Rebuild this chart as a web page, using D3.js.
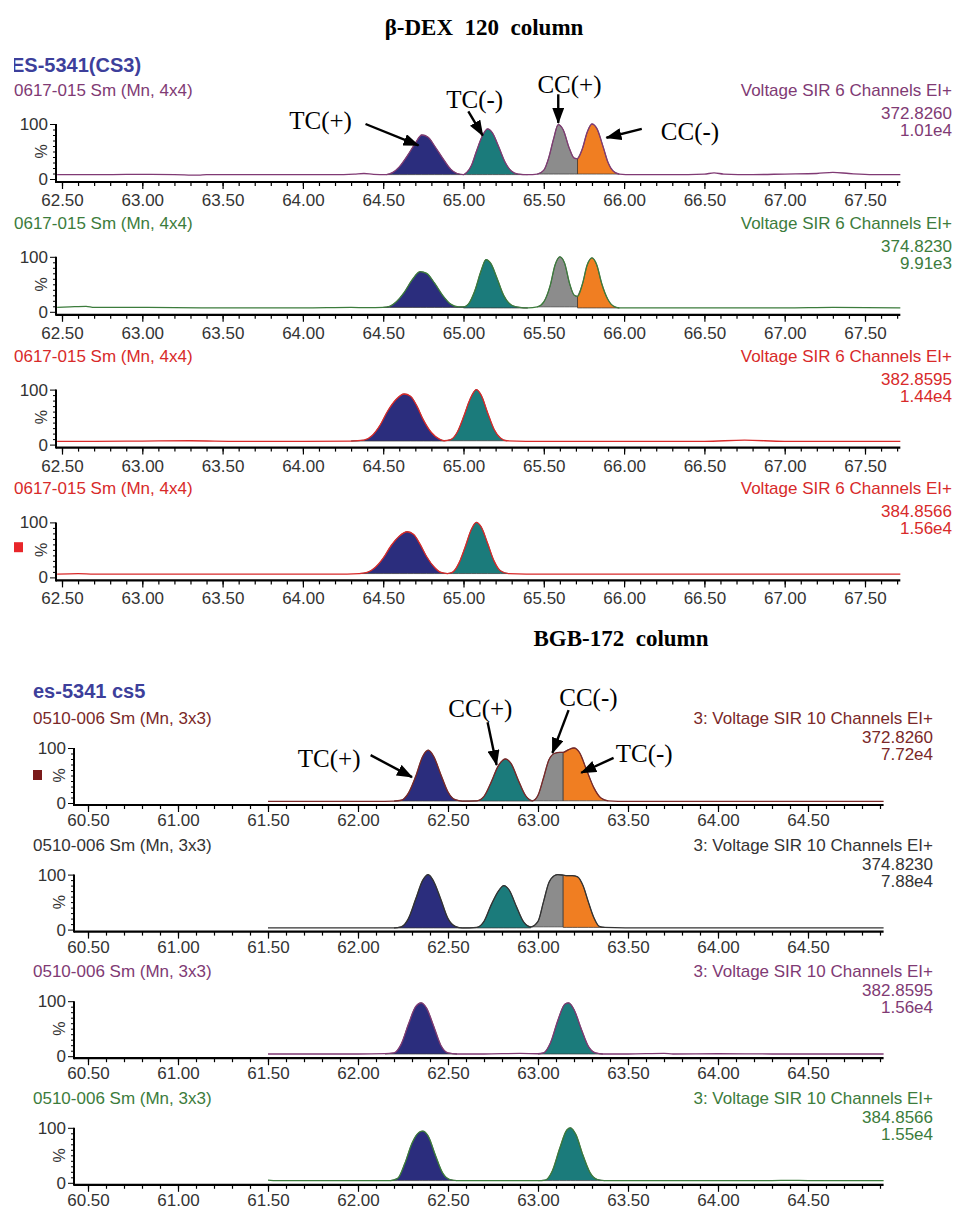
<!DOCTYPE html>
<html>
<head>
<meta charset="utf-8">
<script src="https://cdn.jsdelivr.net/npm/d3@7"></script>
<style>
body { margin: 0; background: #fff; }
text { font-family: "Liberation Sans", Arial, sans-serif; }
.serif { font-family: "Liberation Serif", "Times New Roman", serif; }
</style>
</head>
<body>
<svg id="chart" width="955" height="1209"></svg>
<script>
var NAVY = "#2b2d7d", TEAL = "#1b7b7b", GRAY = "#8c8c8c", ORANGE = "#f07e22";

// tick labels
var dexTicks = [62.5, 63, 63.5, 64, 64.5, 65, 65.5, 66, 66.5, 67, 67.5];
var bgbTicks = [60.5, 61, 61.5, 62, 62.5, 63, 63.5, 64, 64.5];

// channel labels
var dexFile = ["0617-015 Sm (Mn, 4x4)", "0617-015 Sm (Mn, 4x4)", "0617-015 Sm (Mn, 4x4)", "0617-015 Sm (Mn, 4x4)"];
var dexMass = ["372.8260", "374.8230", "382.8595", "384.8566"];
var dexIntensity = ["1.01e4", "9.91e3", "1.44e4", "1.56e4"];
var bgbFile = ["0510-006 Sm (Mn, 3x3)", "0510-006 Sm (Mn, 3x3)", "0510-006 Sm (Mn, 3x3)", "0510-006 Sm (Mn, 3x3)"];
var bgbMass = ["372.8260", "374.8230", "382.8595", "384.8566"];
var bgbIntensity = ["7.72e4", "7.88e4", "1.56e4", "1.55e4"];

// traces: [retention time (min), % of max]
var dex372 = [[62.47,8],[62.8,8],[63.0,8.5],[63.2,8],[63.35,7],[63.4,8],[63.8,8],[64.2,8],[64.32,9],[64.38,10],[64.44,8.5],[64.52,8],
  [64.56,12],[64.6,22],[64.65,42],[64.7,65],[64.74,80],[64.78,76],[64.82,60],[64.87,38],[64.92,18],[64.96,10],[65.0,8],
  [65.02,12],[65.05,25],[65.08,50],[65.12,80],[65.15,91],[65.18,84],[65.22,58],[65.26,30],[65.3,14],[65.34,9],[65.4,8],
  [65.46,9],[65.5,16],[65.53,38],[65.56,72],[65.59,99],[65.62,90],[65.66,55],[65.69,38],[65.71,37],
  [65.74,55],[65.77,85],[65.8,100],[65.83,92],[65.87,58],[65.9,30],[65.93,15],[65.97,9],
  [66.05,8],[66.3,8],[66.5,9],[66.56,11],[66.62,9],[66.8,8],[67.0,9],[67.2,10],[67.3,12],[67.4,10],[67.55,8],[67.72,8]];
var dex374 = [[62.47,8],[62.55,9],[62.65,10],[62.7,8],[62.8,8],[63.0,8],[63.2,7.5],[63.4,7],[64.0,7],[64.3,8],[64.4,7.5],[64.5,8],
  [64.54,10],[64.58,18],[64.63,35],[64.68,58],[64.73,73],[64.77,70],[64.82,52],[64.87,30],[64.92,14],[64.97,9],[65.0,9],
  [65.03,14],[65.07,38],[65.11,75],[65.14,95],[65.17,88],[65.21,60],[65.25,30],[65.3,12],[65.35,8],[65.4,7],
  [65.46,9],[65.5,18],[65.54,48],[65.57,85],[65.6,100],[65.63,88],[65.66,52],[65.69,30],[65.71,28],
  [65.74,50],[65.77,85],[65.8,98],[65.83,85],[65.86,52],[65.9,22],[65.93,11],[65.97,7],
  [66.2,7],[66.5,7],[67.0,7],[67.3,8],[67.72,7]];
var dex382 = [[62.47,6],[62.7,6],[63.0,6.5],[63.3,7],[63.6,6],[64.0,6],[64.3,6.5],
  [64.38,8],[64.43,16],[64.48,35],[64.53,62],[64.58,82],[64.63,92],[64.67,88],[64.71,70],[64.75,45],[64.8,22],[64.85,10],[64.88,7],
  [64.92,9],[64.96,22],[65.0,50],[65.04,82],[65.08,100],[65.11,90],[65.15,58],[65.19,28],[65.23,12],[65.27,7],
  [65.5,6],[66.0,6],[66.5,6],[66.75,8],[67.0,6],[67.72,6]];
var dex384 = [[62.47,6],[62.6,7],[62.7,6],[62.8,6],[63.3,6],[63.8,6],[64.2,6],[64.35,7],
  [64.4,9],[64.45,18],[64.5,35],[64.55,58],[64.6,75],[64.65,83],[64.69,78],[64.73,60],[64.77,38],[64.82,18],[64.86,9],[64.9,7],
  [64.93,9],[64.97,25],[65.01,55],[65.05,88],[65.08,100],[65.11,92],[65.15,62],[65.19,30],[65.23,12],[65.28,7],
  [65.5,6],[66.0,6],[66.5,6],[67.0,6],[67.72,6]];

var bgb372 = [[61.5,3],[61.8,3],[62.1,3],[62.2,3.5],
  [62.24,5],[62.28,18],[62.32,48],[62.36,85],[62.39,96],[62.42,85],[62.46,52],[62.5,20],[62.54,6],[62.58,3.5],
  [62.66,4],[62.7,12],[62.74,38],[62.78,68],[62.82,80],[62.85,72],[62.89,42],[62.93,14],[62.97,4],
  [63.0,14],[63.03,45],[63.06,78],[63.09,90],[63.12,92],[63.14,92],
  [63.17,97],[63.2,100],[63.23,92],[63.27,60],[63.31,28],[63.35,9],[63.39,4],
  [63.5,3],[64.0,3],[64.5,3],[64.92,3]];
var bgb374 = [[61.5,3],[62.2,3],
  [62.24,5],[62.28,20],[62.32,55],[62.36,90],[62.39,100],[62.42,88],[62.46,55],[62.5,20],[62.54,6],[62.58,3],
  [62.66,4],[62.7,15],[62.74,45],[62.78,70],[62.81,80],[62.84,72],[62.88,42],[62.92,14],[62.96,5],
  [63.0,15],[63.03,50],[63.06,85],[63.09,98],[63.11,100],[63.14,99],
  [63.16,98],[63.19,98],[63.22,96],[63.25,80],[63.28,50],[63.31,22],[63.34,6],[63.37,4],
  [63.6,3],[64.2,3],[64.92,3]];
var bgb382 = [[61.5,4],[61.7,4],[62.0,4],[62.15,4.5],
  [62.2,6],[62.24,22],[62.28,58],[62.32,90],[62.35,97],[62.38,88],[62.42,55],[62.46,20],[62.5,6],[62.55,4],
  [62.7,4],[62.9,5],[63.0,4.5],
  [63.03,6],[63.07,25],[63.11,65],[63.15,95],[63.17,97],[63.2,85],[63.24,50],[63.28,18],[63.32,6],[63.36,4],
  [63.5,4],[63.7,5],[63.75,4],[64.0,4.5],[64.3,4],[64.92,4]];
var bgb384 = [[61.5,5],[61.55,4],[62.0,4],[62.18,4],
  [62.22,8],[62.26,35],[62.3,72],[62.34,92],[62.36,94],[62.39,85],[62.43,50],[62.47,18],[62.51,6],[62.55,4],
  [63.0,4],[63.04,5],[63.08,22],[63.12,62],[63.16,96],[63.18,100],[63.21,88],[63.25,50],[63.29,18],[63.33,6],[63.37,4],
  [64.3,4],[64.4,4.5],[64.5,4],[64.92,4]];

// filled peaks: [start, end, colour]
var dex372Peaks = [[64.52, 65.0, NAVY], [65.0, 65.4, TEAL], [65.46, 65.71, GRAY], [65.71, 65.97, ORANGE]];
var dex374Peaks = [[64.5, 65.0, NAVY], [65.0, 65.4, TEAL], [65.46, 65.71, GRAY], [65.71, 65.97, ORANGE]];
var dex382Peaks = [[64.3, 64.88, NAVY], [64.88, 65.27, TEAL]];
var dex384Peaks = [[64.35, 64.9, NAVY], [64.9, 65.28, TEAL]];
var bgb372Peaks = [[62.2, 62.58, NAVY], [62.58, 62.97, TEAL], [62.97, 63.14, GRAY], [63.14, 63.39, ORANGE]];
var bgb374Peaks = [[62.2, 62.58, NAVY], [62.58, 62.96, TEAL], [62.96, 63.14, GRAY], [63.14, 63.37, ORANGE]];
var bgb382Peaks = [[62.15, 62.55, NAVY], [63.0, 63.36, TEAL]];
var bgb384Peaks = [[62.18, 62.55, NAVY], [63.0, 63.37, TEAL]];

// annotations: [label, text t, text %, arrow from t, from %, to t, to %]
var dexNotes = [["TC(+)", 64.11, 91, 64.39, 100, 64.72, 61],
  ["TC(-)", 65.07, 129, 65.03, 123, 65.12, 79],
  ["CC(+)", 65.66, 157, 65.59, 154, 65.59, 102],
  ["CC(-)", 66.41, 71, 66.11, 91, 65.89, 75]];
var bgbNotes = [["TC(+)", 61.84, 65, 62.07, 87, 62.3, 47],
  ["CC(+)", 62.68, 156, 62.72, 147, 62.77, 69],
  ["CC(-)", 63.28, 176, 63.17, 169, 63.08, 91],
  ["TC(-)", 63.59, 75, 63.42, 82, 63.24, 55]];

var svg = d3.select("#chart");

svg.append("defs").append("marker")
  .attr("id", "head").attr("viewBox", "0 0 16 12")
  .attr("refX", 15).attr("refY", 6)
  .attr("markerWidth", 16).attr("markerHeight", 12)
  .attr("markerUnits", "userSpaceOnUse").attr("orient", "auto")
  .append("path").attr("d", "M0,0L16,6L0,12Z").attr("fill", "#000");

svg.select("defs").append("clipPath").attr("id", "cut")
  .append("rect").attr("x", 14).attr("y", 0).attr("width", 941).attr("height", 1209);

var drawPanel = function(p) {
  var x = d3.scaleLinear().domain(p.xd).range(p.xr);
  var y = d3.scaleLinear().domain([0, 100]).range([p.y0, p.y0 - 55]);
  var g = svg.append("g");

  g.append("text").attr("x", p.textX).attr("y", p.y0 + p.subDy)
    .attr("font-size", 17).attr("fill", p.color).text(p.file);
  var right = [p.channel, p.mass, p.intensity];
  var rightDy = [p.subDy, -60, -43];
  right.forEach(function(s, i) {
    g.append("text").attr("x", p.rightX).attr("y", p.y0 + rightDy[i])
      .attr("text-anchor", "end").attr("font-size", 17).attr("fill", p.color).text(s);
  });

  // peak fills
  p.peaks.forEach(function(pk) {
    var pts = p.trace.filter(function(d) { return d[0] >= pk[0] && d[0] <= pk[1]; });
    var base = d3.min(pts, function(d) { return d[1]; });
    g.append("path").datum(pts)
      .attr("fill", pk[2]).attr("stroke", "#333").attr("stroke-width", 0.7)
      .attr("d", d3.area().curve(d3.curveMonotoneX)
        .x(function(d) { return x(d[0]); })
        .y0(y(base)).y1(function(d) { return y(d[1]); }));
  });

  g.append("path").datum(p.trace)
    .attr("fill", "none").attr("stroke", p.color).attr("stroke-width", 1.3)
    .attr("d", d3.line().curve(d3.curveMonotoneX)
      .x(function(d) { return x(d[0]); })
      .y(function(d) { return y(d[1]); }));

  // x axis
  var axY = p.y0 + p.axDy;
  var minor = d3.range(Math.round(p.xd[0] * 10), Math.round(p.xEnd * 10) + 1).map(function(v) { return v / 10; });
  g.append("g").attr("transform", "translate(0," + axY + ")")
    .call(d3.axisBottom(x).tickValues(minor).tickSize(4).tickSizeOuter(0).tickFormat(""))
    .call(function(a) { a.select(".domain").remove(); a.selectAll("line").attr("stroke-width", 1.2); });
  g.append("g").attr("transform", "translate(0," + axY + ")")
    .call(d3.axisBottom(x).tickValues(p.ticks).tickSize(7).tickSizeOuter(0).tickPadding(p.pad).tickFormat(d3.format(".2f")))
    .call(function(a) {
      a.select(".domain").remove();
      a.selectAll("line").attr("stroke-width", 1.2);
      a.selectAll("text").attr("font-size", 17).attr("fill", "#333")
        .style("font-family", "'Liberation Sans', Arial, sans-serif");
    });
  g.append("line").attr("x1", p.axX).attr("x2", x(p.xEnd))
    .attr("y1", axY).attr("y2", axY).attr("stroke", "#000").attr("stroke-width", 2.2);

  // y axis
  var yAxis = g.append("g").attr("transform", "translate(" + p.axX + ",0)");
  yAxis.call(d3.axisLeft(y).tickValues(d3.range(10, 100, 10)).tickSize(3).tickSizeOuter(0).tickFormat(""))
    .call(function(a) { a.select(".domain").remove(); });
  yAxis.append("g")
    .call(d3.axisLeft(y).tickValues([0, 100]).tickSize(6).tickSizeOuter(0).tickPadding(2))
    .call(function(a) {
      a.select(".domain").remove();
      a.selectAll("text").attr("font-size", 17).attr("fill", "#333")
        .style("font-family", "'Liberation Sans', Arial, sans-serif");
    });
  yAxis.append("line").attr("y1", y(100)).attr("y2", axY + 1)
    .attr("stroke", "#000").attr("stroke-width", 2);
  g.append("text").attr("transform", "translate(" + (p.axX - 9) + "," + y(50) + ") rotate(-90)")
    .attr("text-anchor", "middle").attr("font-size", 16).attr("fill", "#333").text("%");

  if (p.flag) {
    g.append("rect").attr("x", p.flag[0]).attr("y", y(p.flag[1]))
      .attr("width", 9).attr("height", 10).attr("fill", p.flag[2]);
  }

  if (p.notes) {
    p.notes.forEach(function(n) {
      g.append("text").attr("class", "serif").attr("x", x(n[1])).attr("y", y(n[2]))
        .attr("text-anchor", "middle").attr("font-size", 25).attr("fill", "#000").text(n[0]);
      g.append("line").attr("x1", x(n[3])).attr("y1", y(n[4]))
        .attr("x2", x(n[5])).attr("y2", y(n[6]))
        .attr("stroke", "#000").attr("stroke-width", 2.4).attr("marker-end", "url(#head)");
    });
  }
};

// titles
svg.append("text").attr("class", "serif").attr("x", 484).attr("y", 35)
  .attr("text-anchor", "middle").attr("font-size", 23).attr("font-weight", "bold")
  .style("white-space", "pre").text("β-DEX  120  column");
svg.append("text").attr("class", "serif").attr("x", 621).attr("y", 646)
  .attr("text-anchor", "middle").attr("font-size", 23).attr("font-weight", "bold")
  .style("white-space", "pre").text("BGB-172  column");

svg.append("text").attr("x", 11).attr("y", 72).attr("clip-path", "url(#cut)")
  .attr("font-size", 20).attr("font-weight", "bold").attr("fill", "#3d3f9b").text("ES-5341(CS3)");
svg.append("text").attr("x", 33).attr("y", 698)
  .attr("font-size", 20).attr("font-weight", "bold").attr("fill", "#3d3f9b").text("es-5341 cs5");

var dexTraces = [dex372, dex374, dex382, dex384];
var dexPeaks = [dex372Peaks, dex374Peaks, dex382Peaks, dex384Peaks];
var dexColors = ["#803a74", "#3c7c3c", "#d82a2a", "#d82a2a"];
dexTraces.forEach(function(tr, i) {
  drawPanel({
    xd: [62.5, 67.5], xr: [62, 865], xEnd: 67.72, axX: 56,
    y0: 179 + i * 132.8, axDy: 3, subDy: -83, pad: 5,
    textX: 14, rightX: 952, color: dexColors[i],
    file: dexFile[i], channel: "Voltage SIR 6 Channels EI+",
    mass: dexMass[i], intensity: dexIntensity[i],
    trace: tr, peaks: dexPeaks[i], ticks: dexTicks,
    notes: i === 0 ? dexNotes : null,
    flag: i === 3 ? [14, 64, "#e8262a"] : null
  });
});

var bgbTraces = [bgb372, bgb374, bgb382, bgb384];
var bgbPeaks = [bgb372Peaks, bgb374Peaks, bgb382Peaks, bgb384Peaks];
var bgbColors = ["#7a2828", "#333333", "#803a74", "#3c7c3c"];
bgbTraces.forEach(function(tr, i) {
  drawPanel({
    xd: [60.5, 64.5], xr: [88, 808], xEnd: 64.92, axX: 74,
    y0: 803 + i * 126.6, axDy: 2, subDy: -79, pad: 2,
    textX: 33, rightX: 933, color: bgbColors[i],
    file: bgbFile[i], channel: "3: Voltage SIR 10 Channels EI+",
    mass: bgbMass[i], intensity: bgbIntensity[i],
    trace: tr, peaks: bgbPeaks[i], ticks: bgbTicks,
    notes: i === 0 ? bgbNotes : null,
    flag: i === 0 ? [33, 60, "#7a1a1a"] : null
  });
});
</script>
</body>
</html>
